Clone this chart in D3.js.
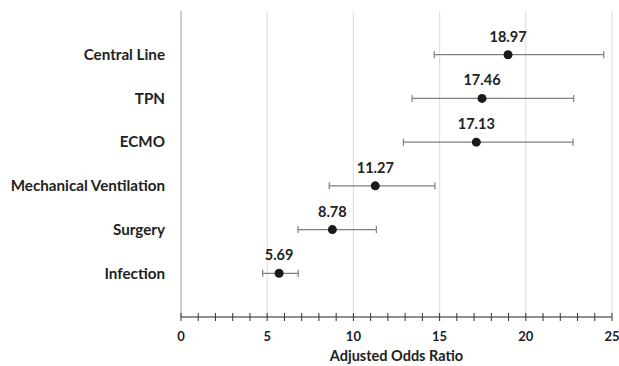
<!DOCTYPE html>
<html>
<head>
<meta charset="utf-8">
<script src="https://cdn.jsdelivr.net/npm/d3@7"></script>
<style>
  body { margin: 0; background: #fff; }
  svg { display: block; font-family: Lato, "Open Sans", sans-serif; }
</style>
</head>
<body>
<div id="chart"></div>
<script>
// top to bottom
const categories = ['Central Line', 'TPN', 'ECMO', 'Mechanical Ventilation', 'Surgery', 'Infection'];
const oddsRatio = [18.97, 17.46, 17.13, 11.27, 8.78, 5.69];
const lowerCI = [14.69, 13.4, 12.9, 8.6, 6.79, 4.74];
const upperCI = [24.52, 22.78, 22.74, 14.73, 11.33, 6.8];
const xTicks = [0, 5, 10, 15, 20, 25];

const width = 619, height = 366;
const margin = { top: 11, right: 7, bottom: 49, left: 181 };

const svg = d3.select('#chart').append('svg')
  .attr('width', width)
  .attr('height', height);

const x = d3.scaleLinear().domain([0, 25]).range([margin.left, width - margin.right]);
// rows sit on slots 1..6 of a 0..7 scale, first category on top
const y = d3.scaleLinear().domain([0, categories.length + 1]).range([height - margin.bottom, margin.top]);
const rowY = i => y(categories.length - i);

// vertical gridlines
svg.append('g')
  .selectAll('line')
  .data(xTicks)
  .join('line')
  .attr('x1', d => x(d)).attr('x2', d => x(d))
  .attr('y1', y(7)).attr('y2', y(0))
  .attr('stroke', d => d === 0 ? '#d0d0d0' : '#e2e2e2')
  .attr('stroke-width', d => d === 0 ? 2 : 1.2);

// x axis with minor ticks crossing the line
const axisY = y(0);
const axis = svg.append('g');
axis.append('line')
  .attr('x1', x(0)).attr('x2', x(25))
  .attr('y1', axisY).attr('y2', axisY)
  .attr('stroke', '#222').attr('stroke-width', 1.2);
axis.selectAll('.minor')
  .data(d3.range(0, 26))
  .join('line')
  .attr('x1', d => x(d)).attr('x2', d => x(d))
  .attr('y1', axisY - 4).attr('y2', axisY + 4)
  .attr('stroke', '#333').attr('stroke-width', 1);
axis.selectAll('text')
  .data(xTicks)
  .join('text')
  .attr('x', d => x(d))
  .attr('y', axisY + 24)
  .attr('text-anchor', 'middle')
  .attr('font-size', 13)
  .attr('font-weight', 'bold')
  .attr('fill', '#222')
  .text(d => d);

svg.append('text')
  .attr('x', x(12.5))
  .attr('y', 361)
  .attr('text-anchor', 'middle')
  .attr('font-size', 14.5)
  .attr('font-weight', 'bold')
  .attr('fill', '#222')
  .text('Adjusted Odds Ratio');

// category labels
svg.append('g')
  .selectAll('text')
  .data(categories)
  .join('text')
  .attr('x', 165)
  .attr('y', (d, i) => rowY(i))
  .attr('dy', '0.35em')
  .attr('text-anchor', 'end')
  .attr('font-size', 15.2)
  .attr('font-weight', 'bold')
  .attr('fill', '#222')
  .text(d => d);

// error bars
const bars = svg.append('g').selectAll('g')
  .data(categories.map((c, i) => ({ c, i, v: oddsRatio[i], lo: lowerCI[i], hi: upperCI[i] })))
  .join('g');

bars.append('line')
  .attr('x1', d => x(d.lo)).attr('x2', d => x(d.hi))
  .attr('y1', d => rowY(d.i)).attr('y2', d => rowY(d.i))
  .attr('stroke', '#7f7f7f').attr('stroke-width', 1.2);
bars.selectAll('.cap')
  .data(d => [d.lo, d.hi].map(v => ({ v, i: d.i })))
  .join('line')
  .attr('x1', d => x(d.v)).attr('x2', d => x(d.v))
  .attr('y1', d => rowY(d.i) - 3.5).attr('y2', d => rowY(d.i) + 3.5)
  .attr('stroke', '#7f7f7f').attr('stroke-width', 1.2);

bars.append('circle')
  .attr('cx', d => x(d.v))
  .attr('cy', d => rowY(d.i))
  .attr('r', 4.5)
  .attr('fill', '#1a1a1a');

bars.append('text')
  .attr('x', d => x(d.v))
  .attr('y', d => rowY(d.i) - 13)
  .attr('text-anchor', 'middle')
  .attr('font-size', 14.5)
  .attr('font-weight', 'bold')
  .attr('fill', '#222')
  .text(d => d.v.toFixed(2));
</script>
</body>
</html>
